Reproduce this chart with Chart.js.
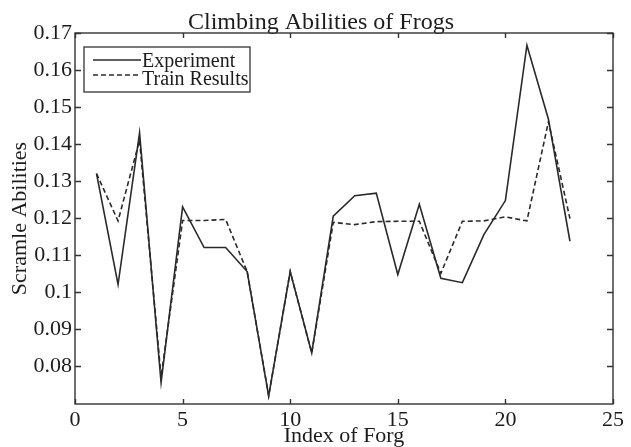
<!DOCTYPE html>
<html>
<head>
<meta charset="utf-8">
<title>Climbing Abilities of Frogs</title>
<script src="https://cdn.jsdelivr.net/npm/chart.js@4/dist/chart.umd.min.js"></script>
<style>
  html, body { margin: 0; padding: 0; background: #fff; }
  #c { display: block; }
</style>
</head>
<body>
<canvas id="c" width="631" height="447"></canvas>
<script>
// Frog index (x) and measured / trained scramble abilities (y)
const frogIndex = [1, 2, 3, 4, 5, 6, 7, 8, 9, 10, 11, 12, 13, 14, 15, 16, 17, 18, 19, 20, 21, 22, 23];
const experiment = [0.132, 0.102, 0.143, 0.0755, 0.123, 0.112, 0.112, 0.1055, 0.0719, 0.1055, 0.0835,
                    0.1205, 0.126, 0.1267, 0.1047, 0.1237, 0.1037, 0.1025, 0.1155, 0.1247, 0.1667, 0.1467, 0.1137];
const trainResults = [0.132, 0.1192, 0.141, 0.077, 0.1193, 0.1193, 0.1196, 0.1055, 0.0719, 0.1055, 0.0835,
                      0.1188, 0.1182, 0.119, 0.1191, 0.1191, 0.105, 0.1191, 0.1192, 0.1203, 0.1192, 0.146, 0.1198];
const seriesNames = ['Experiment', 'Train Results'];
const chartTitle = 'Climbing Abilities of Frogs';
const xTicks = [0, 5, 10, 15, 20, 25];
const yTicks = [0.08, 0.09, 0.10, 0.11, 0.12, 0.13, 0.14, 0.15, 0.16, 0.17];

const SERIF = '"Liberation Serif", "Times New Roman", serif';
const INK = '#1c1c1c';
const LINE = '#2a2a2a';

const toPoints = vals => frogIndex.map((f, i) => ({ x: f, y: vals[i] }));

// Title, box around the plot area, inward tick marks on all four sides, and the legend
const framePlugin = {
  id: 'frame',
  afterDatasetsDraw(chart) {
    const { ctx, chartArea: a, scales: { x, y } } = chart;
    ctx.save();

    // title, slightly right of the plot centre
    ctx.font = '24px ' + SERIF;
    ctx.fillStyle = INK;
    ctx.textAlign = 'center';
    ctx.textBaseline = 'alphabetic';
    ctx.fillText(chartTitle, (a.left + a.right) / 2 - 23, a.top - 4);

    ctx.strokeStyle = '#333';
    ctx.lineWidth = 1.4;
    ctx.strokeRect(a.left, a.top, a.right - a.left, a.bottom - a.top);
    ctx.beginPath();
    x.ticks.forEach(t => {
      const px = Math.round(x.getPixelForValue(t.value)) + 0.5;
      ctx.moveTo(px, a.bottom); ctx.lineTo(px, a.bottom - 5);
      ctx.moveTo(px, a.top); ctx.lineTo(px, a.top + 5);
    });
    y.ticks.forEach(t => {
      const py = Math.round(y.getPixelForValue(t.value)) + 0.5;
      ctx.moveTo(a.left, py); ctx.lineTo(a.left + 6, py);
      ctx.moveTo(a.right, py); ctx.lineTo(a.right - 6, py);
    });
    ctx.stroke();

    // legend
    const lx = a.left + 9, ly = a.top + 14, lw = 166, lh = 45;
    ctx.fillStyle = '#fff';
    ctx.fillRect(lx, ly, lw, lh);
    ctx.lineWidth = 1.3;
    ctx.strokeStyle = '#333';
    ctx.strokeRect(lx, ly, lw, lh);
    const rows = [
      { y: ly + 13, textY: ly + 19.5, dash: [] },
      { y: ly + 28, textY: ly + 38, dash: [5, 3] }
    ];
    ctx.font = '20px ' + SERIF;
    ctx.textAlign = 'left';
    rows.forEach((r, i) => {
      ctx.beginPath();
      ctx.setLineDash(r.dash);
      ctx.strokeStyle = LINE;
      ctx.lineWidth = 1.5;
      ctx.moveTo(lx + 9, r.y);
      ctx.lineTo(lx + 57, r.y);
      ctx.stroke();
      ctx.setLineDash([]);
      ctx.fillStyle = INK;
      ctx.fillText(seriesNames[i], lx + 58, r.textY);
    });
    ctx.restore();
  }
};

new Chart(document.getElementById('c'), {
  type: 'line',
  data: {
    datasets: [
      {
        label: seriesNames[0],
        data: toPoints(experiment),
        borderColor: LINE,
        borderWidth: 1.6,
        pointRadius: 0,
        fill: false,
        tension: 0
      },
      {
        label: seriesNames[1],
        data: toPoints(trainResults),
        borderColor: LINE,
        borderWidth: 1.6,
        borderDash: [5, 3],
        pointRadius: 0,
        fill: false,
        tension: 0
      }
    ]
  },
  options: {
    responsive: false,
    animation: false,
    events: [],
    layout: { padding: { left: 0, right: 18, top: 33, bottom: 0 } },
    plugins: {
      legend: { display: false },
      tooltip: { enabled: false },
      title: { display: false }
    },
    scales: {
      x: {
        type: 'linear',
        min: 0,
        max: 25,
        afterBuildTicks: s => { s.ticks = xTicks.map(v => ({ value: v })); },
        afterFit: s => { s.height = 43; },
        grid: { display: false, drawTicks: false },
        border: { display: false },
        ticks: {
          color: INK,
          padding: 3,
          maxRotation: 0,
          font: { family: SERIF, size: 22 },
          callback: v => String(v)
        },
        title: {
          display: true,
          text: 'Index of Forg',
          color: INK,
          font: { family: SERIF, size: 22, lineHeight: 1 },
          padding: { top: 0, bottom: 0 }
        }
      },
      y: {
        type: 'linear',
        min: 0.0697,
        max: 0.17,
        afterBuildTicks: s => { s.ticks = yTicks.map(v => ({ value: v })); },
        afterFit: s => { s.width = 75; },
        grid: { display: false, drawTicks: false },
        border: { display: false },
        ticks: {
          color: INK,
          padding: 3,
          font: { family: SERIF, size: 22 },
          callback: v => String(+v.toFixed(2))
        },
        title: {
          display: true,
          text: 'Scramle Abilities',
          color: INK,
          font: { family: SERIF, size: 22, lineHeight: 1 },
          padding: { top: 9.5, bottom: 0 }
        }
      }
    }
  },
  plugins: [framePlugin]
});
</script>
</body>
</html>
